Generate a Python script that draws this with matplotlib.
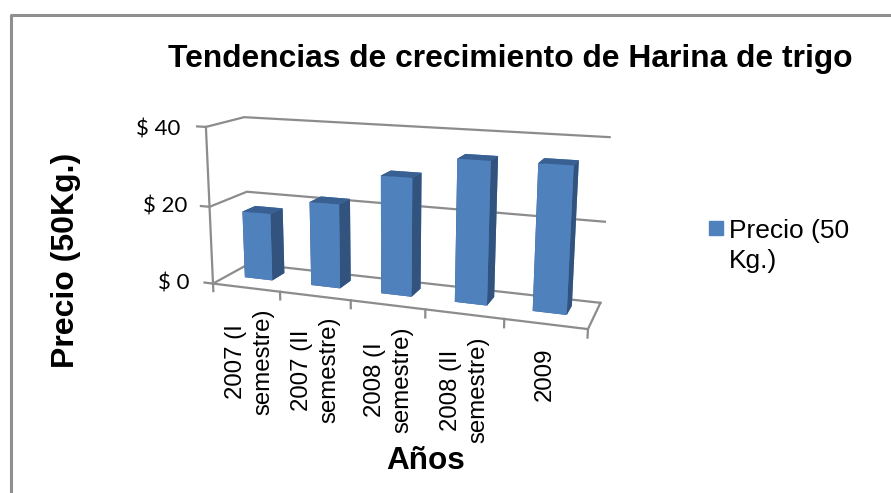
import matplotlib
matplotlib.use("Agg")
import matplotlib.pyplot as plt
from matplotlib.lines import Line2D
from matplotlib.patches import Rectangle

categories = ["2007 (I\nsemestre)", "2007 (II\nsemestre)", "2008 (I\nsemestre)", "2008 (II\nsemestre)", "2009"]
precio = [17.5, 21.5, 29.5, 34.8, 35]
ytick_values = [0, 20, 40]
ytick_labels = ["$ 0", "$ 20", "$ 40"]

W, H = 891, 493
GRID = "#8c8c8c"
FRONT = "#4f81bd"
SIDE = "#31537d"
TOP = "#386092"

fig = plt.figure(figsize=(W / 100, H / 100), dpi=100, facecolor="white")


def px(x, y):
    return x / W, 1 - y / H


# square 3d axes, view fitted to the reference's wall corners
side = 891
cx, cy = 389.3, 226.1
ax = fig.add_axes([(cx - side / 2) / W, 1 - (cy + side / 2) / H, side / W, side / H], projection="3d")
ax.set_axis_off()
ax.patch.set_alpha(0)
ax.computed_zorder = False
ax.set_xlim(0, 5)
ax.set_ylim(0, 1)
ax.set_zlim(0, 40)
ax.margins(0)
ax.set_box_aspect((410, 82.5, 173.4), zoom=0.471)
ax.set_proj_type("persp", focal_length=0.196)
ax.view_init(elev=13.52, azim=-70.29, roll=-0.2)

lkw = dict(color=GRID, lw=1.6, zorder=1)
# grid on the walls
for v in ytick_values:
    ax.plot([-0.13, 0, 0, 5], [0, 0, 1, 1], [v, v, v, v], **lkw)
ax.plot([0, 0], [0, 0], [0, 40], **lkw)
# floor
ax.plot([0, 5, 5], [0, 0, 1], [0, 0, 0], **lkw)
for i in range(len(categories) + 1):
    ax.plot([i, i], [0, 0], [0, -2], **lkw)

# bars
bar_w = 0.42
bar_y = 0.40
bar_d = 0.36
for i, val in enumerate(precio):
    ax.bar3d(i + 0.26, bar_y, 0, bar_w, bar_d, val,
             color=[TOP, TOP, FRONT, FRONT, SIDE, SIDE], shade=False, zorder=2 + i)

# frame of the picture
fig.add_artist(Line2D([11 / W, 11 / W, 1], [0, 1 - 15 / H, 1 - 15 / H], color="#8f8f8f", lw=2.2))

sans = "Liberation Sans"
fig.text(*px(510, 59), "Tendencias de crecimiento de Harina de trigo", family=sans, weight="bold",
         fontsize=22.9, ha="center", va="center")
fig.text(*px(66, 260), "Precio (50Kg.)", family=sans, weight="bold", fontsize=23, rotation=90,
         ha="center", va="center")
fig.text(*px(426, 461), "Años", family=sans, weight="bold", fontsize=22.7, ha="center", va="center")

# y tick labels
for lab, (xr, yc) in zip(ytick_labels, [(190, 283), (187, 207), (180, 129)]):
    fig.text(*px(xr, yc), lab, family="Lato", fontsize=16, ha="right", va="center")

# x tick labels
for lab, (xc, yc) in zip(categories, [(250, 362), (316, 370), (389, 380), (465, 390), (545, 374)]):
    fig.text(*px(xc, yc), lab, family=sans, fontsize=17.3, rotation=90, ha="center", va="center",
             multialignment="center", linespacing=1.3)

# legend
fig.add_artist(Rectangle(px(709, 235), 14 / W, 14 / H, transform=fig.transFigure, color=FRONT))
fig.text(*px(729, 246), "Precio (50\nKg.)", family=sans, fontsize=19, ha="left", va="center",
         linespacing=1.32)

fig.savefig("out.png", dpi=100)
